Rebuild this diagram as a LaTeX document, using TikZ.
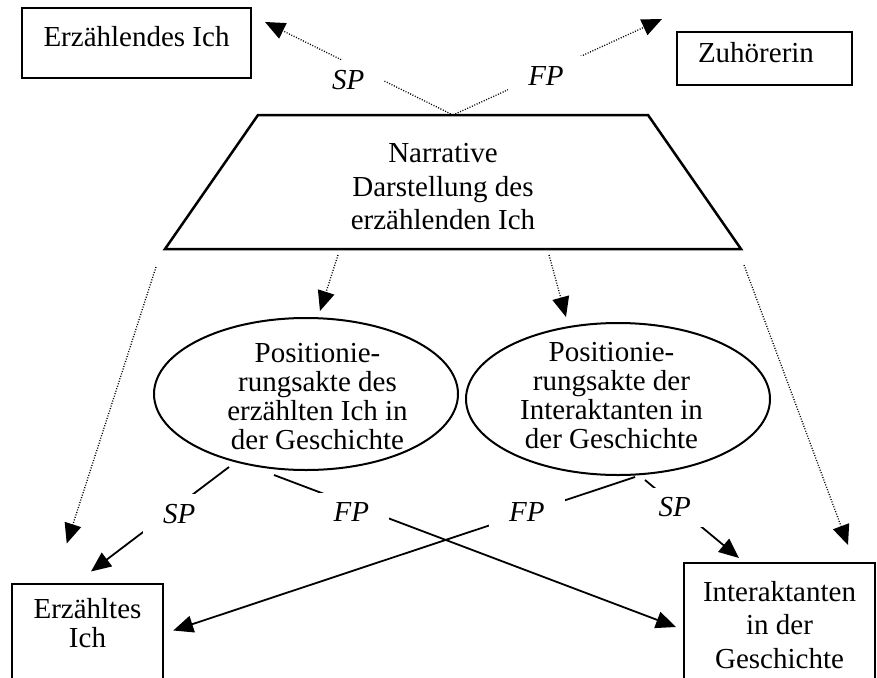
\documentclass[tikz,border=0pt]{standalone}
\usepackage{fontspec}
\setmainfont{Liberation Serif}
\usetikzlibrary{calc, arrows.meta, shapes.geometric}
\newcommand{\diafont}{\fontsize{29}{33.5}\selectfont}
\newcommand{\elfont}{\fontsize{29}{29}\selectfont}
\tikzstyle{box} = [draw, line width=2pt, inner sep=0pt, align=center]
\tikzstyle{ell} = [draw, ellipse, line width=2pt, minimum width=304pt, minimum height=152pt, inner sep=0pt]
\tikzstyle{txt} = [inner sep=0pt, align=center]
\tikzstyle{lbl} = [fill=white, inner xsep=20pt, inner ysep=10pt, font=\diafont\itshape]
\tikzstyle{dotarr} = [-{Triangle[length=20pt, width=17pt]}, line width=1.3pt, dash pattern=on 1pt off 1.6pt]
\tikzstyle{solarr} = [-{Triangle[length=20pt, width=17pt]}, line width=1.8pt]

\begin{document}
\begin{tikzpicture}[x=1pt, y=-1pt, font=\diafont]

    \useasboundingbox (0,0) rectangle (877,677);
    \clip (0,0) rectangle (877,677);

    \node[box, anchor=north, minimum width=229pt, text height=38pt, text depth=32pt] (eich) at (136.5,7) {Erzählendes Ich};
    \node[box, anchor=north, inner xsep=21pt, text width=133pt, align=left, text height=30.5pt, text depth=22.5pt] (zuh) at (764.5,31) {Zuhörerin};
    \node[box, anchor=north, minimum width=151.5pt, inner ysep=15pt, font=\elfont] (eich2) at (87.5,582.5) {Erzähltes\\Ich\\~};
    \node[box, anchor=north, minimum width=191pt, inner ysep=18pt] (inter) at (779.5,562) {Interaktanten\\in der\\Geschichte};

    \coordinate (narTL) at (258,115);
    \coordinate (narTR) at (648,115);
    \coordinate (narBR) at (741,249);
    \coordinate (narBL) at (165,249);
    \coordinate (narT) at ($(narTL)!0.5!(narTR)$);
    \coordinate (narB) at ($(narBL)!0.5!(narBR)$);
    \draw[line width=2.5pt, line join=miter] (narTL) -- (narTR) -- (narBR) -- (narBL) -- cycle;
    \node[txt] (nartxt) at (443,186.7) {Narrative\\Darstellung des\\erzählenden Ich};

    \node[ell] (pos1) at (306,394) {};
    \node[txt, font=\elfont] (pos1txt) at ($(pos1)+(11.5,2.5)$) {Positionie-\\rungsakte des\\erzählten Ich in\\der Geschichte};
    \node[ell] (pos2) at (618,399) {};
    \node[txt, font=\elfont] (pos2txt) at ($(pos2)+(-6.5,-3)$) {Positionie-\\rungsakte der\\Interaktanten in\\der Geschichte};

    \path[dotarr]
        (narT) edge node[lbl, pos=0.52, xshift=-7pt, yshift=-13pt] {SP} ($(eich.north east)+(13,15)$)
        (narT) edge node[lbl, pos=0.44, xshift=1pt, yshift=-3pt] {FP} ($(zuh.north west)+(-14,-12)$)
        ($(narB)+(-115,6)$) edge ($(pos1.north)+(14,-6)$)
        ($(narB)+(96,6)$) edge ($(pos2.north)+(-52,-5)$)
        ($(narBL)+(-9,18)$) edge ($(eich2.north west)+(56,-39)$)
        ($(narBR)+(3,16)$) edge ($(inter.north east)+(-28,-17)$)
    ;

    \path[solarr]
        ($(pos1)+(-77,73)$) edge node[lbl, pos=0.39, xshift=4pt, yshift=-6pt] {SP} ($(eich2.north)+(3.5,-11)$)
        ($(pos1)+(-32,81)$) edge node[lbl, pos=0.2, xshift=-3pt, yshift=-7pt] {FP} ($(inter.north west)+(-7,65)$)
        ($(pos2)+(17,78)$) edge node[lbl, pos=0.23, xshift=-2pt] {FP} ($(eich2.north east)+(9,48)$)
        ($(pos2)+(27,81)$) edge node[lbl, pos=0.39, xshift=-7pt, yshift=3pt] {SP} ($(inter.north west)+(56,-4)$)
    ;

\end{tikzpicture}
\end{document}
